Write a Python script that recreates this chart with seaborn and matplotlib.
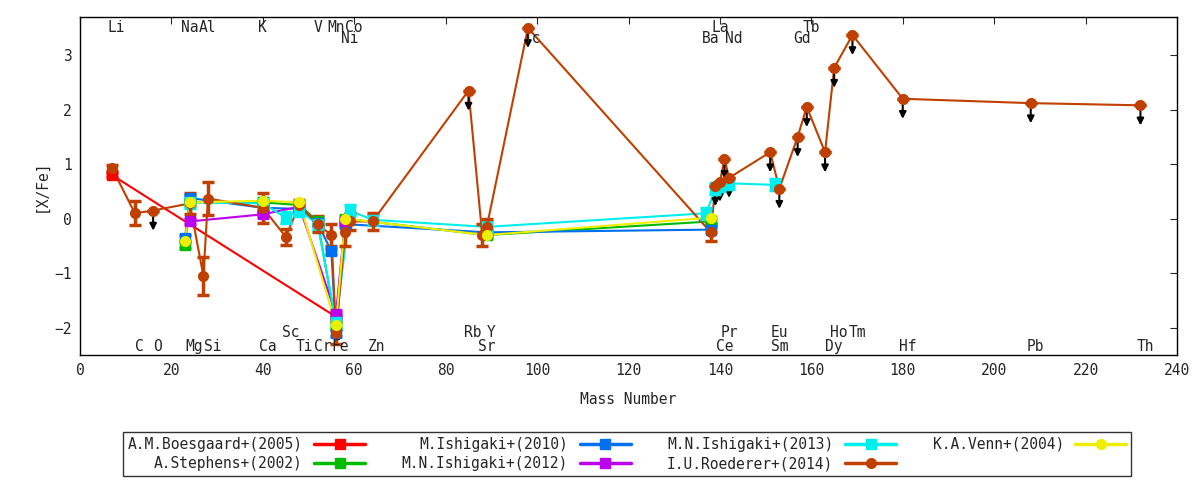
import numpy as np
import pandas as pd
import matplotlib
matplotlib.use('Agg')
import matplotlib.pyplot as plt
from matplotlib.lines import Line2D
import seaborn as sns

# element label positions (mass number) and rows
top1 = [('Li', 7), ('Na', 23), ('Al', 27), ('K', 39), ('V', 51), ('Mn', 55), ('Co', 59), ('La', 139), ('Tb', 159)]
top2 = [('Ni', 58), ('Tc', 98), ('Ba', 137), ('Nd', 142), ('Gd', 157)]
bot1 = [('C', 12), ('O', 16), ('Mg', 24), ('Si', 28), ('Ca', 40), ('Ti', 48), ('Cr', 52), ('Fe', 56), ('Zn', 64),
        ('Sr', 88), ('Ce', 140), ('Sm', 152), ('Dy', 164), ('Hf', 180), ('Pb', 208), ('Th', 232)]
bot2 = [('Sc', 45), ('Rb', 85), ('Y', 89), ('Pr', 141), ('Eu', 152), ('Ho', 165), ('Tm', 169)]

boes_m = [7, 56]
boes_v = [0.80, -1.80]
boes_e = [0.03, 0.03]

steph_m = [23, 24, 40, 48, 52, 56, 58, 89, 138]
steph_v = [-0.48, 0.30, 0.30, 0.25, -0.05, -1.95, 0.00, -0.30, -0.05]

ish10_m = [23, 24, 40, 48, 52, 55, 56, 58, 89, 138]
ish10_v = [-0.35, 0.38, 0.20, 0.18, -0.08, -0.60, -2.10, -0.10, -0.25, -0.20]

ish12_m = [24, 40, 48, 56, 58]
ish12_v = [-0.05, 0.08, 0.22, -1.75, -0.05]

ish13_m = [24, 40, 45, 48, 52, 56, 59, 64, 89, 137, 139, 140, 142, 152]
ish13_v = [0.30, 0.28, 0.02, 0.15, -0.10, -1.90, 0.15, -0.02, -0.15, 0.10, 0.55, 0.60, 0.65, 0.62]

roed_m = [7, 12, 16, 24, 27, 28, 40, 45, 48, 52, 55, 56, 58, 59, 64, 85, 88, 89, 98,
          138, 139, 140, 141, 142, 151, 153, 157, 159, 163, 165, 169, 180, 208, 232]
roed_v = [0.93, 0.10, 0.15, 0.28, -1.05, 0.37, 0.20, -0.33, 0.25, -0.10, -0.30, -2.10, -0.25, -0.05, -0.05,
          2.35, -0.30, -0.15, 3.50, -0.25, 0.60, 0.68, 1.10, 0.75, 1.22, 0.55, 1.50, 2.05, 1.22, 2.77, 3.37,
          2.20, 2.12, 2.08]
roed_e = [0.05, 0.22, 0, 0.2, 0.35, 0.3, 0.28, 0.15, 0.1, 0.15, 0.2, 0.2, 0.25, 0.15, 0.15,
          0, 0.2, 0.15, 0, 0.15, 0, 0, 0, 0, 0, 0, 0, 0, 0, 0, 0, 0, 0, 0]
roed_ul = [0, 0, 1, 0, 0, 0, 0, 0, 0, 0, 0, 0, 0, 0, 0,
           1, 0, 0, 1, 0, 1, 1, 1, 1, 1, 1, 1, 1, 1, 1, 1, 1, 1, 1]

venn_m = [23, 24, 40, 48, 56, 58, 89, 138]
venn_v = [-0.40, 0.30, 0.33, 0.30, -1.95, 0.00, -0.30, 0.02]

sns.set_style('white')
plt.rcParams['font.family'] = ['DejaVu Sans Mono']
plt.rcParams['font.size'] = 10.5

fig = plt.figure(figsize=(12, 4.8), dpi=100)
ax = fig.add_axes([80 / 1200, 125 / 480, 1097 / 1200, 338 / 480])

series = [
    ('A.M.Boesgaard+(2005)', boes_m, boes_v, boes_e, '#ff0000', 's'),
    ('A.Stephens+(2002)', steph_m, steph_v, [0.05] * len(steph_m), '#00bb00', 's'),
    ('M.Ishigaki+(2010)', ish10_m, ish10_v, [0.05] * len(ish10_m), '#0070ee', 's'),
    ('M.N.Ishigaki+(2012)', ish12_m, ish12_v, [0.05] * len(ish12_m), '#bb00ee', 's'),
    ('M.N.Ishigaki+(2013)', ish13_m, ish13_v, [0.1] * len(ish13_m), '#00eeee', 's'),
    ('I.U.Roederer+(2014)', roed_m, roed_v, roed_e, '#c04000', 'o'),
    ('K.A.Venn+(2004)', venn_m, venn_v, [0.03] * len(venn_m), '#eeee00', 'o'),
]

handles = []
for name, m, v, e, col, mk in series:
    df = pd.DataFrame({'m': m, 'v': v})
    sns.lineplot(data=df, x='m', y='v', sort=False, color=col, lw=1.5, ax=ax, legend=False)
    ax.errorbar(m, v, yerr=e, fmt=mk, color=col, ms=7, capsize=4, elinewidth=2.5,
                capthick=2.5, ls='none', zorder=3)
    handles.append(Line2D([], [], color=col, lw=2.5, marker=mk, ms=7, label=name))

# upper limit arrows
for m, v, ul in zip(roed_m, roed_v, roed_ul):
    if ul:
        ax.annotate('', xy=(m, v - 0.42), xytext=(m, v - 0.05),
                    arrowprops=dict(arrowstyle='-|>', color='black', lw=1.5, mutation_scale=10), zorder=2)

for rows, y in [(top1, 3.5), (top2, 3.3), (bot1, -2.34), (bot2, -2.08)]:
    for lab, m in rows:
        ax.text(m + 1, y, lab, ha='center', va='center', fontsize=10.5)

ax.set_xlim(0, 240)
ax.set_ylim(-2.5, 3.7)
ax.set_xticks(range(0, 241, 20))
ax.set_yticks([-2, -1, 0, 1, 2, 3])
ax.tick_params(direction='in', length=5, top=True, right=True, pad=6)
for s in ax.spines.values():
    s.set_color('black')
    s.set_linewidth(1)
ax.set_xlabel('Mass Number', labelpad=10)
ax.set_ylabel('[X/Fe]')

leg = fig.legend(handles=handles, loc='center', bbox_to_anchor=(627 / 1200, 1 - 454 / 480), ncol=4,
                 markerfirst=False, frameon=True, fancybox=False, edgecolor='black', handlelength=3.5,
                 columnspacing=2.5, borderpad=0.3, labelspacing=0.3, fontsize=10.5)

fig.savefig('out.png', dpi=100)
